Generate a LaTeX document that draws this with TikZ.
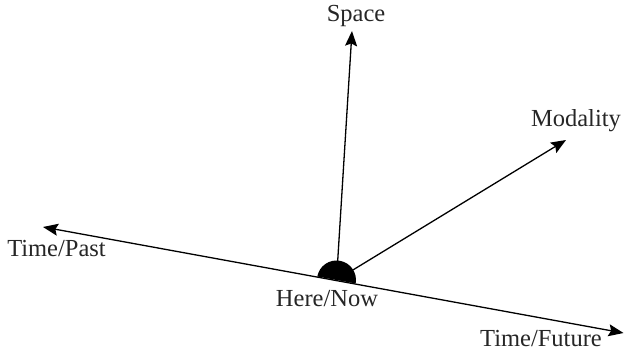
\documentclass[tikz,border=0pt]{standalone}
\usepackage{fontspec}
\setmainfont{Liberation Serif}
\usetikzlibrary{arrows.meta,calc}
\begin{document}
\begin{tikzpicture}[x=1pt,y=-1pt,
  tip/.tip={Stealth[length=15pt,width=12pt,inset=2.5pt]},
  axis/.style={line width=1.3pt,-tip},
  lbl/.style={anchor=base,inner sep=0pt,font=\fontsize{24.5}{29}\selectfont,text=black!85}]
\useasboundingbox (0,0) rectangle (625,353);
\coordinate (O) at (336.5,280);
\coordinate (past) at (43,227);
\coordinate (future) at (623.5,333);
\coordinate (spaceTip) at (352,31);
\coordinate (modTip) at (566,140);
% labels
\node[lbl] (space) at (356,21.7) {Space};
\node[lbl] (modality) at (576,126.7) {Modality};
\node[lbl] (tpast) at (56.5,256.7) {Time/Past};
\node[lbl] (here) at (327,306.7) {Here/Now};
\node[lbl] (tfuture) at (541,346.7) {Time/Future};
% axes
\draw[axis,tip-tip] (past) -- (future);
\draw[axis] (O) -- (spaceTip);
\draw[axis] (O) -- (modTip);
% semicircle
\fill[rotate around={-10.35:(O)}] ($(O)+(-19.5,0)$) arc[start angle=180,end angle=360,radius=19.5] -- cycle;
\end{tikzpicture}
\end{document}
